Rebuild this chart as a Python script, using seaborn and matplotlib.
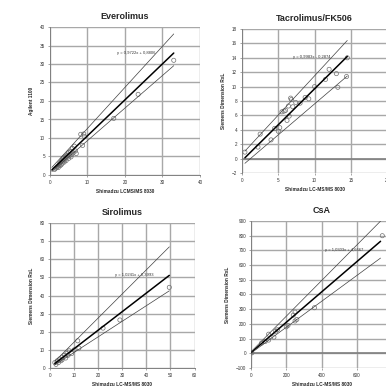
import matplotlib
matplotlib.use("Agg")
import matplotlib.pyplot as plt
import seaborn as sns
import numpy as np
import pandas as pd

# Everolimus
evero_x = [1.2, 1.5, 1.8, 2.0, 2.2, 2.4, 2.5, 2.7, 2.8, 3.0, 3.0, 3.2, 3.3, 3.5, 3.5, 3.7, 3.8, 4.0, 4.0,
           4.2, 4.3, 4.5, 4.6, 4.8, 5.0, 5.0, 5.2, 5.5, 5.6, 5.8, 6.0, 6.2, 6.5, 6.8, 7.0, 8.2, 8.7, 9.0,
           9.2, 17.0, 23.5, 33.0]
evero_y = [1.5, 1.8, 2.0, 2.3, 2.0, 2.7, 3.0, 2.5, 3.3, 3.6, 2.8, 4.0, 3.2, 4.4, 3.8, 4.7, 3.5, 4.2, 5.0,
           4.6, 3.9, 5.3, 4.8, 5.7, 4.5, 6.1, 5.2, 6.4, 4.9, 5.5, 7.2, 6.0, 7.8, 6.5, 5.8, 11.0, 8.0, 11.1,
           10.4, 15.3, 21.8, 31.0]

# Tacrolimus/FK506
tacro_x = [0.4, 2.2, 2.5, 4.0, 4.5, 5.0, 5.2, 5.5, 5.8, 6.0, 6.2, 6.4, 6.5, 6.7, 6.8, 7.0, 7.4, 8.0,
           8.7, 9.2, 10.0, 11.5, 12.0, 13.0, 13.2, 14.4, 14.5]
tacro_y = [0.9, 1.6, 3.4, 2.6, 4.2, 3.8, 4.3, 6.5, 6.6, 6.7, 5.3, 7.3, 5.9, 8.4, 8.2, 7.2, 7.8, 7.7,
           8.5, 8.3, 10.0, 11.0, 12.4, 11.8, 9.9, 11.4, 14.0]

# Sirolimus
siro_x = [2.0, 2.5, 3.0, 3.5, 4.0, 4.5, 5.0, 5.0, 6.0, 6.5, 7.0, 7.5, 8.0, 9.0, 10.0, 11.5, 12.0,
          22.0, 29.0, 49.5]
siro_y = [3.0, 2.0, 4.0, 3.0, 5.0, 4.0, 6.0, 4.5, 7.0, 5.5, 8.0, 7.0, 9.5, 8.0, 10.0, 15.0, 11.0,
          22.0, 26.5, 44.5]

# CsA
csa_x = [0, 5, 60, 80, 100, 100, 130, 140, 150, 200, 210, 240, 250, 250, 260, 360, 745]
csa_y = [5, 3, 70, 80, 130, 90, 110, 150, 160, 180, 190, 260, 280, 220, 230, 310, 800]

# fitted lines: slope, intercept, x-range; plus upper / lower bounding lines
titles = ["Everolimus", "Tacrolimus/FK506", "Sirolimus", "CsA"]
xlabels = ["Shimadzu LCMS/MS 8030", "Shimadzu LC-MS/MS 8030",
           "Shimadzu LC-MS/MS 8030", "Shimadzu LC-MS/MS 8030"]
ylabels = ["Agilent 1100", "Siemens Dimension RxL", "Siemens Dimension RxL", "Siemens Dimension RxL"]
equations = ["y = 0,9722x + 0,8806", "y = 0,9983x - 0,2874", "y = 1,0241x + 0,3993", "y = 1,0303x + 4,6667"]
fit_slope = [0.9722, 0.9983, 1.0241, 1.0303]
fit_icpt = [0.8806, -0.2874, 0.3993, 4.6667]
fit_xmin = [0.5, 0.4, 2.0, 0.0]
fit_xmax = [33.0, 14.5, 49.5, 735.0]
upper_slope = [1.11, 1.09, 1.33, 1.21]
upper_icpt = [1.5, 0.6, 1.0, 10.0]
lower_slope = [0.88, 0.86, 0.86, 0.88]
lower_icpt = [0.5, -1.0, 0.0, 1.0]
xlims = [(0, 40), (0, 20), (0, 60), (0, 800)]
ylims = [(0, 40), (-2, 18), (0, 80), (-100, 900)]
xticks = [[0, 10, 20, 30, 40], [0, 5, 10, 15, 20], [0, 10, 20, 30, 40, 50, 60], [0, 200, 400, 600, 800]]
ystep = [5, 2, 10, 100]
eq_pos = [(17.9, 33.0), (7.0, 14.1), (27.0, 51.3), (419, 703)]
zero_line = [False, True, False, True]

sns.set_theme(style="whitegrid", rc={"grid.color": "#a8a8a8", "grid.linewidth": 1.0})
plt.rcParams['font.family'] = ['Liberation Sans', 'DejaVu Sans']

fig = plt.figure(figsize=(3.86, 3.88), dpi=100)
W, H = 386, 388
# pixel boxes: left, right, top, bottom
boxes = [(50, 200, 27, 175), (242, 387.2, 29, 173), (50, 194.6, 223, 368), (251, 392, 221, 368)]
data = [(evero_x, evero_y), (tacro_x, tacro_y), (siro_x, siro_y), (csa_x, csa_y)]

for i in range(4):
    l, r, t, b = boxes[i]
    ax = fig.add_axes([l / W, 1 - b / H, (r - l) / W, (b - t) / H])
    ax.set_facecolor("white")
    df = pd.DataFrame({"x": data[i][0], "y": data[i][1]})
    sns.scatterplot(data=df, x="x", y="y", ax=ax, marker="o", s=9, facecolor="none",
                    edgecolor="#707070", linewidth=0.5, zorder=3)
    xs = np.array([fit_xmin[i], fit_xmax[i]])
    sns.lineplot(x=xs, y=fit_slope[i] * xs + fit_icpt[i], ax=ax, color="black", linewidth=1.1, zorder=4)
    sns.lineplot(x=xs, y=upper_slope[i] * xs + upper_icpt[i], ax=ax, color="#404040", linewidth=0.5, zorder=4)
    sns.lineplot(x=xs, y=lower_slope[i] * xs + lower_icpt[i], ax=ax, color="#404040", linewidth=0.5, zorder=4)
    ax.text(eq_pos[i][0], eq_pos[i][1], equations[i], fontsize=3, color="#333333", va="center", ha="left")

    ax.set_xlim(*xlims[i])
    ax.set_ylim(*ylims[i])
    ax.set_xticks(xticks[i])
    ax.set_yticks(np.arange(ylims[i][0], ylims[i][1] + 0.1, ystep[i]))
    ax.tick_params(labelsize=3.3, labelcolor="#333333", color="#808080", length=1.5, width=0.5, pad=2,
                   bottom=True, left=True)
    for s in ["top", "right"]:
        ax.spines[s].set_visible(False)
    ax.spines["left"].set_color("#808080")
    ax.spines["left"].set_linewidth(0.7)
    if zero_line[i]:
        ax.spines["bottom"].set_visible(False)
        ax.axhline(0, color="#808080", linewidth=1.2, zorder=2)
    else:
        ax.spines["bottom"].set_color("#808080")
        ax.spines["bottom"].set_linewidth(0.7)
    ax.set_title(titles[i], fontsize=6.5, fontweight="bold", pad=6)
    ax.set_xlabel(xlabels[i], fontsize=3.4, fontweight="bold", labelpad=3)
    ax.set_ylabel(ylabels[i], fontsize=3.4, fontweight="bold", labelpad=4)
    ax.set_axisbelow(True)
    ax.xaxis.grid(True, color="#a8a8a8", linewidth=1.0)
    ax.yaxis.grid(True, color="#a8a8a8", linewidth=1.0)

fig.savefig("out.png", dpi=100, facecolor="white")
